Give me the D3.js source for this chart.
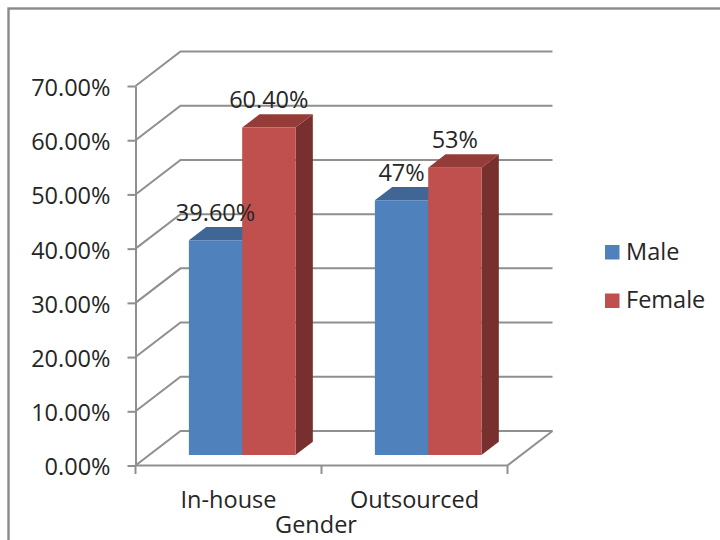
<!DOCTYPE html>
<html>
<head>
<meta charset="utf-8">
<script src="https://cdn.jsdelivr.net/npm/d3@7/dist/d3.min.js"></script>
<style>
  html, body { margin: 0; padding: 0; background: #fff; }
  svg { display: block; }
  text { font-family: "Open Sans", sans-serif; fill: #262626; }
</style>
</head>
<body>
<svg id="chart" width="720" height="540"></svg>
<script>
const categories = ["In-house", "Outsourced"];
const seriesNames = ["Male", "Female"];
const maleValues = [0.396, 0.47];
const femaleValues = [0.604, 0.53];
const maleLabels = ["39.60%", "47%"];
const femaleLabels = ["60.40%", "53%"];
const tickValues = [0, 0.1, 0.2, 0.3, 0.4, 0.5, 0.6, 0.7];
const axisTitle = "Gender";
const seriesColors = {
  Male:   { front: "#4f81bd", top: "#3f6694", side: "#365a85" },
  Female: { front: "#c0504d", top: "#953c39", side: "#77302e" }
};

const svg = d3.select("#chart");
const gridColor = "#8f8f8f";
const fontSize = 23.5;

// Chart frame, running past the right and bottom edges of the page
svg.append("rect")
  .attr("x", 8.5).attr("y", 8.5).attr("width", 900).attr("height", 900)
  .attr("fill", "#fff").attr("stroke", "#8a8a8a").attr("stroke-width", 2.4);

const y = d3.scaleLinear().domain([0, 0.7]).range([465.5, 86]);
const x = d3.scaleBand().domain(categories).range([135.5, 507.5])
  .paddingInner(0.427).paddingOuter(0.2135);
const barX = d3.scaleBand().domain(seriesNames).range([0, x.bandwidth()]);

// Oblique projection: depth 0 is the front plane, depth 1 the back wall
const depthX = 45, depthY = -34.5;
const px = (vx, d) => vx + depthX * d;
const py = (v, d) => y(v) + depthY * d;
const barNear = 0.304, barFar = 0.69;

const line = d3.line();

// Side wall and back wall gridlines
const walls = svg.append("g").attr("fill", "none")
  .attr("stroke", gridColor).attr("stroke-width", 2);
const [x0, x1] = x.range();
walls.selectAll("path.grid").data(tickValues).join("path")
  .attr("class", "grid")
  .attr("d", v => line([[x0, y(v)], [px(x0, 1), py(v, 1)], [px(x1, 1), py(v, 1)]]));

// Floor edges
walls.append("path")
  .attr("d", line([[x1, y(0)], [px(x1, 1), py(0, 1)]]));

// Value axis with outward ticks
const yAxis = d3.axisLeft(y).tickValues(tickValues).tickFormat(d3.format(".2%"))
  .tickSize(8).tickPadding(17).tickSizeOuter(0);
const yG = svg.append("g").attr("transform", `translate(${x0},0)`).call(yAxis);
yG.select(".domain").attr("stroke", gridColor).attr("stroke-width", 2);
yG.selectAll(".tick line").attr("stroke", gridColor).attr("stroke-width", 2);
yG.selectAll(".tick text").style("font-size", fontSize + "px").attr("dy", "0.4em")
  .style("font-family", "'Open Sans', sans-serif").attr("fill", "#262626");

// Category axis: ticks sit on the band boundaries
const baseY = y(0);
svg.append("path").attr("fill", "none").attr("stroke", gridColor).attr("stroke-width", 2)
  .attr("d", line([[x0, baseY], [x1, baseY]]));
const step = (x1 - x0) / categories.length;
svg.append("g").selectAll("line").data(d3.range(categories.length + 1)).join("line")
  .attr("x1", i => x0 + i * step).attr("x2", i => x0 + i * step)
  .attr("y1", baseY).attr("y2", baseY + 8.5)
  .attr("stroke", gridColor).attr("stroke-width", 2);
svg.append("g").selectAll("text").data(categories).join("text")
  .attr("x", c => x(c) + x.bandwidth() / 2).attr("y", 508)
  .attr("text-anchor", "middle").style("font-size", fontSize + "px")
  .text(c => c);
// Axis title sits just inside the bottom of the page
svg.append("text").attr("x", 316).attr("y", 533)
  .attr("text-anchor", "middle").style("font-size", fontSize + "px")
  .text(axisTitle);

// 3D bars: top and side faces first, then the front face
const bars = categories.flatMap((c, i) => [
  { category: c, series: "Male", value: maleValues[i], label: maleLabels[i] },
  { category: c, series: "Female", value: femaleValues[i], label: femaleLabels[i] }
]);
const barG = svg.append("g").selectAll("g").data(bars).join("g");
const left = d => x(d.category) + barX(d.series);
const right = d => left(d) + barX.bandwidth();
const poly = pts => line(pts) + "Z";

barG.append("path").attr("fill", d => seriesColors[d.series].side)
  .attr("d", d => poly([
    [px(right(d), barNear), py(d.value, barNear)],
    [px(right(d), barFar), py(d.value, barFar)],
    [px(right(d), barFar), py(0, barFar)],
    [px(right(d), barNear), py(0, barNear)]
  ]));
barG.append("path").attr("fill", d => seriesColors[d.series].top)
  .attr("d", d => poly([
    [px(left(d), barNear), py(d.value, barNear)],
    [px(left(d), barFar), py(d.value, barFar)],
    [px(right(d), barFar), py(d.value, barFar)],
    [px(right(d), barNear), py(d.value, barNear)]
  ]));
barG.append("path").attr("fill", d => seriesColors[d.series].front)
  .attr("d", d => poly([
    [px(left(d), barNear), py(d.value, barNear)],
    [px(right(d), barNear), py(d.value, barNear)],
    [px(right(d), barNear), py(0, barNear)],
    [px(left(d), barNear), py(0, barNear)]
  ]));

// Data labels go above every bar so they read across neighbouring bars
svg.append("g").selectAll("text").data(bars).join("text")
  .attr("x", d => px((left(d) + right(d)) / 2, barNear))
  .attr("y", d => py(d.value, barNear) - 19.5)
  .attr("text-anchor", "middle").style("font-size", fontSize + "px")
  .text(d => d.label);

// Legend
const legendY = d3.scalePoint().domain(seriesNames).range([245, 293.5]);
const legend = svg.append("g").selectAll("g").data(seriesNames).join("g")
  .attr("transform", s => `translate(605,${legendY(s)})`);
legend.append("rect").attr("width", 14.5).attr("height", 14.5)
  .attr("fill", s => seriesColors[s].front);
legend.append("text").attr("x", 21).attr("y", 14.5)
  .style("font-size", fontSize + "px").text(s => s);
</script>
</body>
</html>
